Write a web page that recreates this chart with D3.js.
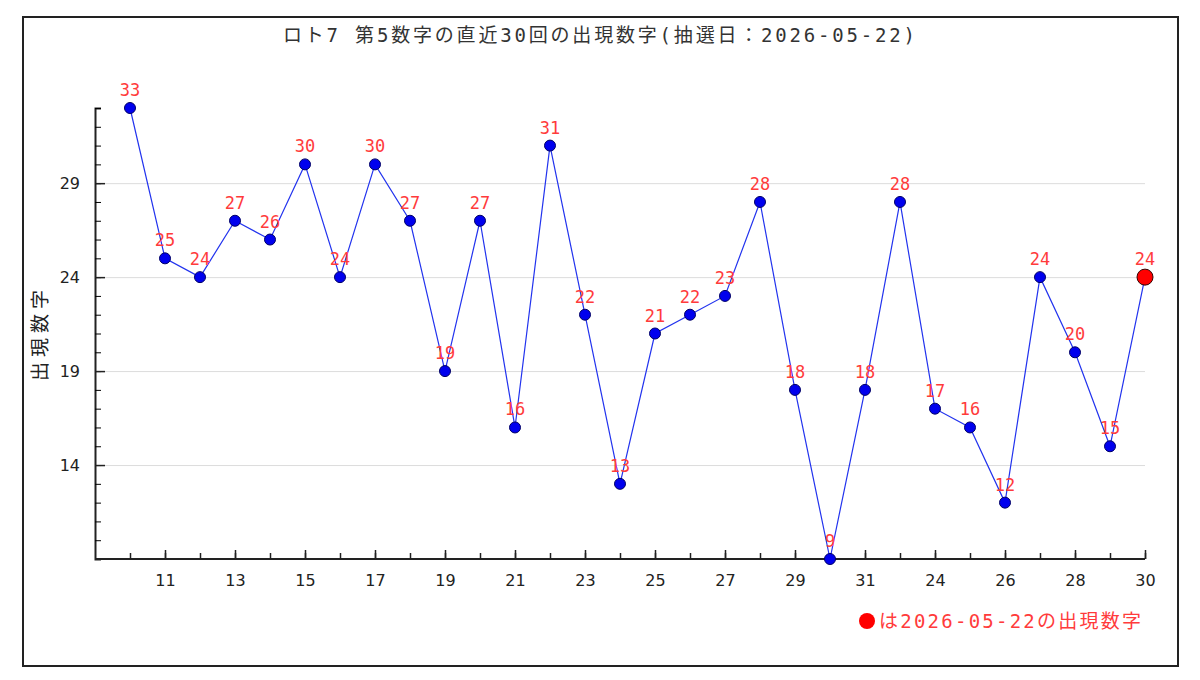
<!DOCTYPE html>
<html>
<head>
<meta charset="utf-8">
<script src="https://cdn.jsdelivr.net/npm/d3@7"></script>
<style>
  body { margin: 0; background: #fff; }
  #chartContainer { width: 1200px; height: 680px; }
</style>
</head>
<body>
<div id="chartContainer"></div>
<script>
// Chart data: draw labels along the x axis and the 5th number for each draw
const drawLabels = ["10", "11", "12", "13", "14", "15", "16", "17", "18", "19",
  "20", "21", "22", "23", "24", "25", "26", "27", "28", "29",
  "30", "31", "23", "24", "25", "26", "27", "28", "29", "30"];
const values = [33, 25, 24, 27, 26, 30, 24, 30, 27, 19,
  27, 16, 31, 22, 13, 21, 22, 23, 28, 18,
  9, 18, 28, 17, 16, 12, 24, 20, 15, 24];
const yTickLabels = [14, 19, 24, 29];
const titleText = "ロト7 第5数字の直近30回の出現数字(抽選日：2026-05-22)";
const yAxisTitle = "出現数字";
const legendText = "は2026-05-22の出現数字";

const width = 1200;
const height = 680;
const margin = { top: 108, right: 55, bottom: 121, left: 95 };
const jpFont = "'DejaVu Sans Mono', 'Noto Sans CJK JP', monospace";

const svg = d3.select("#chartContainer")
  .append("svg")
  .attr("width", width)
  .attr("height", height);

// outer frame
svg.append("rect")
  .attr("x", 23).attr("y", 17)
  .attr("width", 1155).attr("height", 649)
  .attr("fill", "#fff")
  .attr("stroke", "#222")
  .attr("stroke-width", 2);

// x is the draw index, one step before the first point so it sits off the axis
const x = d3.scaleLinear()
  .domain([-1, values.length - 1])
  .range([margin.left, width - margin.right]);

const y = d3.scaleLinear()
  .domain([9, 33])
  .range([height - margin.bottom, margin.top]);

const plotW = width - margin.right - margin.left;
const indices = d3.range(values.length);

// gridlines
svg.append("g")
  .attr("transform", `translate(${margin.left}, 0)`)
  .call(d3.axisLeft(y).tickValues(yTickLabels).tickSize(-plotW).tickFormat(""))
  .call(g => g.select(".domain").remove())
  .call(g => g.selectAll("line").attr("stroke", "#dcdcdc"));

// y axis minor ticks (every number) and major labelled ticks
svg.append("g")
  .attr("transform", `translate(${margin.left}, 0)`)
  .call(d3.axisLeft(y).tickValues(d3.range(10, 34)).tickSize(-6).tickFormat(""))
  .call(g => g.select(".domain").attr("stroke", "#222").attr("stroke-width", 2));

svg.append("g")
  .attr("transform", `translate(${margin.left}, 0)`)
  .call(d3.axisLeft(y).tickValues(yTickLabels).tickSize(-10).tickPadding(15))
  .call(g => g.select(".domain").remove())
  .call(g => g.selectAll("line").attr("stroke", "#222").attr("stroke-width", 1.5))
  .call(g => g.selectAll("text")
    .attr("font-family", "'DejaVu Sans', sans-serif")
    .attr("font-size", 16)
    .attr("fill", "#222"));

// x axis: a tick at every draw, labels on every other one
svg.append("g")
  .attr("transform", `translate(0, ${height - margin.bottom})`)
  .call(d3.axisBottom(x).tickValues(indices).tickSize(-6).tickFormat(""))
  .call(g => g.select(".domain").attr("stroke", "#222").attr("stroke-width", 2).attr("d", `M${margin.left},0H${width - margin.right}`))
  .call(g => g.selectAll("line").attr("stroke", "#222").attr("stroke-width", 1.5));

svg.append("g")
  .attr("transform", `translate(0, ${height - margin.bottom})`)
  .call(d3.axisBottom(x).tickValues(indices.filter(i => i % 2 === 1))
    .tickSize(-9).tickPadding(16).tickFormat(i => drawLabels[i]))
  .call(g => g.select(".domain").remove())
  .call(g => g.selectAll("line").attr("stroke", "#222").attr("stroke-width", 1.5))
  .call(g => g.selectAll("text")
    .attr("font-family", "'DejaVu Sans', sans-serif")
    .attr("font-size", 16)
    .attr("fill", "#222"));

// line
const line = d3.line()
  .x((d, i) => x(i))
  .y(d => y(d));

svg.append("path")
  .datum(values)
  .attr("fill", "none")
  .attr("stroke", "#2233ee")
  .attr("stroke-width", 1.2)
  .attr("d", line);

// markers, the latest draw is shown big and red
const last = values.length - 1;
svg.selectAll(".dot")
  .data(values)
  .enter()
  .append("circle")
  .attr("class", "dot")
  .attr("cx", (d, i) => x(i))
  .attr("cy", d => y(d))
  .attr("r", (d, i) => i === last ? 8 : 5.5)
  .attr("fill", (d, i) => i === last ? "#ff0000" : "#0000ee")
  .attr("stroke", (d, i) => i === last ? "#330000" : "#000066")
  .attr("stroke-width", 1);

// value labels
svg.selectAll(".val")
  .data(values)
  .enter()
  .append("text")
  .attr("class", "val")
  .attr("x", (d, i) => x(i))
  .attr("y", d => y(d) - 12)
  .attr("text-anchor", "middle")
  .attr("font-family", "'DejaVu Sans Mono', monospace")
  .attr("font-size", 17)
  .attr("fill", "#ff3b3b")
  .text(d => d);

// title
svg.append("text")
  .attr("x", 599)
  .attr("y", 42)
  .attr("text-anchor", "middle")
  .attr("font-family", jpFont)
  .attr("font-size", 19)
  .attr("fill", "#333")
  .attr("textLength", 632)
  .attr("lengthAdjust", "spacing")
  .text(titleText);

// y axis title
svg.append("text")
  .attr("transform", `translate(47, 333) rotate(-90)`)
  .attr("text-anchor", "middle")
  .attr("font-family", "'Noto Sans CJK JP', sans-serif")
  .attr("font-size", 19)
  .attr("letter-spacing", 5)
  .attr("fill", "#222")
  .text(yAxisTitle);

// legend
svg.append("circle")
  .attr("cx", 867)
  .attr("cy", 621)
  .attr("r", 8)
  .attr("fill", "#ff0000");

svg.append("text")
  .attr("x", 879)
  .attr("y", 628)
  .attr("font-family", jpFont)
  .attr("font-size", 19)
  .attr("fill", "#ff3b3b")
  .attr("textLength", 262)
  .attr("lengthAdjust", "spacing")
  .text(legendText);
</script>
</body>
</html>
